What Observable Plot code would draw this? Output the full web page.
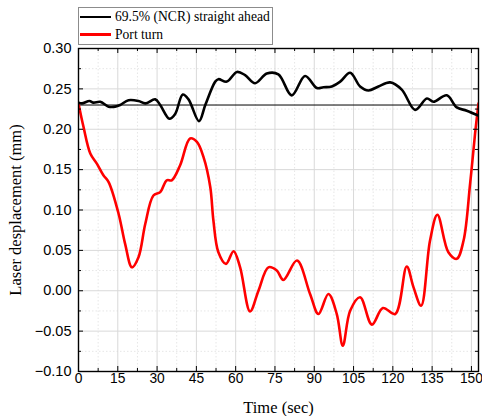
<!DOCTYPE html>
<html><head><meta charset="utf-8">
<script src="https://cdn.jsdelivr.net/npm/d3@7"></script>
<script src="https://cdn.jsdelivr.net/npm/@observablehq/plot@0.6"></script>
<style>
body{margin:0;background:#fff;}
#wrap{position:relative;width:482px;height:416px;}
#legend{position:absolute;left:78px;top:7px;width:195px;height:38px;border:1px solid #8c8c8c;background:#fff;font-family:"Liberation Serif","Times New Roman",serif;font-size:13.6px;box-sizing:border-box;color:#000;}
.item{position:absolute;left:1px;display:flex;align-items:center;height:16px;white-space:nowrap}
.sw{width:31px;height:2.6px;margin-right:4px}
</style></head>
<body>
<div id="wrap"><div id="chart"></div>
<div id="legend">
<div class="item" style="top:1px"><span class="sw" style="background:#000"></span>69.5% (NCR) straight ahead</div>
<div class="item" style="top:18.5px"><span class="sw" style="background:#ff0000"></span>Port turn</div>
</div></div>
<script>
const blackT = [0,1.3,4.2,5.7,8.3,11.5,14,15.9,19.1,22.9,25.5,29.3,31.2,34.7,36.9,39.8,42,46,48.4,52.2,53.4,56.6,60.5,63.6,67.4,71.9,76.3,81.4,86.5,91,93.5,96.7,99.9,103.7,107.5,110.7,114.5,119,123.4,128.5,133,135.5,140.6,144.4,148.2,152.6];
const blackV = [0.233,0.232,0.235,0.233,0.234,0.228,0.228,0.230,0.236,0.235,0.232,0.237,0.230,0.213,0.219,0.243,0.237,0.210,0.230,0.259,0.262,0.259,0.271,0.267,0.257,0.269,0.268,0.242,0.266,0.251,0.252,0.253,0.259,0.270,0.253,0.248,0.253,0.258,0.249,0.224,0.238,0.234,0.242,0.227,0.223,0.217];
const redT = [0,1.9,4.5,7,9.5,11.5,15.3,17.8,20.4,22.9,25.5,28.6,31.2,33.7,35.6,38.8,42.6,45.2,47.7,50.3,51.5,53.4,56.3,59.2,61.7,65.5,68.7,72.5,75.7,78.2,83.4,88.4,91.6,95.4,98.6,100.9,103.7,107.5,112,116.2,120.9,125.3,127.9,130.8,134.2,137,141.2,144.4,147,149.5,151.4,152.7];
const redV = [0.232,0.203,0.170,0.1575,0.143,0.1346,0.0954,0.058,0.029,0.0415,0.083,0.118,0.1222,0.1368,0.1368,0.1554,0.1886,0.1843,0.1657,0.1284,0.087,0.0477,0.0333,0.049,0.029,-0.0256,0.0001,0.029,0.025,0.0134,0.0374,-0.004,-0.0288,-0.004,-0.0288,-0.068,-0.0247,-0.008,-0.042,-0.0214,-0.0288,0.03,0.0042,-0.0185,0.0622,0.0942,0.0477,0.0395,0.0622,0.1327,0.1948,0.232];
const refLevel = [0.23];
const xMajor = [0,15,30,45,60,75,90,105,120,135,150];
const xMinor = [7.5,22.5,37.5,52.5,67.5,82.5,97.5,112.5,127.5,142.5];
const yMajor = [-0.10,-0.05,0.00,0.05,0.10,0.15,0.20,0.25,0.30];
const yMinor = [-0.075,-0.025,0.025,0.075,0.125,0.175,0.225,0.275];
const xTitle = ["Time (sec)"];
const yTitle = ["Laser desplacement (mm)"];

const black = blackT.map((t,i)=>({t, v: blackV[i]}));
const red = redT.map((t,i)=>({t, v: redV[i]}));

const W = 482, H = 416, mL = 78, mR = 4, mT = 48, mB = 45;
const fw = W - mL - mR, fh = H - mT - mB;
const serif = "Liberation Serif, Times New Roman, serif";

const chart = Plot.plot({
  width: W, height: H,
  marginLeft: mL, marginRight: mR, marginTop: mT, marginBottom: mB,
  style: {fontFamily: "Liberation Sans, Arial, sans-serif", fontSize: "14.5px", color: "#000", background: "#fff", overflow: "visible"},
  x: {domain: [0, 152.7]},
  y: {domain: [-0.1, 0.3]},
  marks: [
    Plot.ruleX(xMinor, {x: d=>d, stroke: "#e6e6e6", strokeDasharray: "1.5,2"}),
    Plot.ruleY(yMinor, {y: d=>d, stroke: "#e6e6e6", strokeDasharray: "1.5,2"}),
    Plot.ruleX(xMajor, {x: d=>d, stroke: "#d9d9d9", strokeWidth: 1}),
    Plot.ruleY(yMajor, {y: d=>d, stroke: "#d9d9d9", strokeWidth: 1}),
    Plot.ruleY(refLevel, {y: d=>d, stroke: "#000", strokeWidth: 1}),
    Plot.line(red, {x: "t", y: "v", stroke: "#ff0000", strokeWidth: 2.6, curve: "catmull-rom", clip: true}),
    Plot.line(black, {x: "t", y: "v", stroke: "#000", strokeWidth: 2.6, curve: "catmull-rom", clip: true}),
    Plot.tickX(xMajor, {x: d=>d, insetTop: fh - 5, stroke: "#000"}),
    Plot.tickX(xMajor, {x: d=>d, insetBottom: fh - 5, stroke: "#000"}),
    Plot.tickX(xMinor, {x: d=>d, insetTop: fh - 3, stroke: "#000"}),
    Plot.tickX(xMinor, {x: d=>d, insetBottom: fh - 3, stroke: "#000"}),
    Plot.tickY(yMajor, {y: d=>d, insetRight: fw - 5, stroke: "#000"}),
    Plot.tickY(yMajor, {y: d=>d, insetLeft: fw - 5, stroke: "#000"}),
    Plot.tickY(yMinor, {y: d=>d, insetRight: fw - 3, stroke: "#000"}),
    Plot.tickY(yMinor, {y: d=>d, insetLeft: fw - 3, stroke: "#000"}),
    Plot.frame({stroke: "#000", strokeWidth: 1.4}),
    Plot.axisX(xMajor, {tickSize: 0, tickPadding: 2, label: null, fontSize: 13.8}),
    Plot.axisY(yMajor, {tickSize: 0, tickPadding: 7, label: null, tickFormat: d3.format(".2f")}),
    Plot.text(xTitle, {text: d=>d, frameAnchor: "bottom", dy: 41, lineAnchor: "bottom", fontFamily: serif, fontSize: 16.5, fill: "#000"}),
    Plot.text(yTitle, {text: d=>d, frameAnchor: "left", dx: -63, rotate: -90, textAnchor: "middle", lineAnchor: "middle", fontFamily: serif, fontSize: 16.5, fill: "#000"})
  ]
});
document.getElementById("chart").appendChild(chart);
</script>
</body></html>
